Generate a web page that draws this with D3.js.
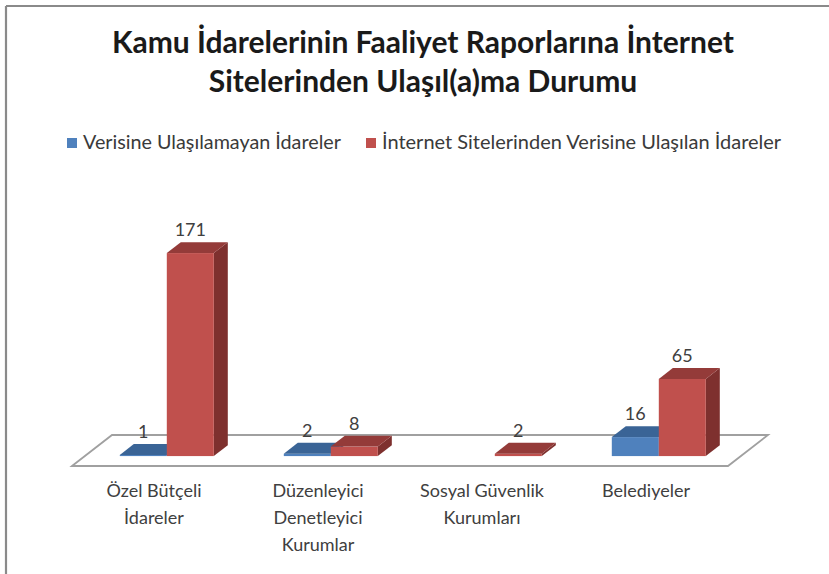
<!DOCTYPE html>
<html>
<head>
<meta charset="utf-8">
<script src="https://cdn.jsdelivr.net/npm/d3@7"></script>
<style>
  html, body { margin: 0; padding: 0; background: #fff; }
  svg { display: block; }
</style>
</head>
<body>
<svg id="chart" width="829" height="574"></svg>
<script>
// ---- data ----
const titleLines = ["Kamu İdarelerinin Faaliyet Raporlarına İnternet", "Sitelerinden Ulaşıl(a)ma Durumu"];
const categories = [["Özel Bütçeli", "İdareler"], ["Düzenleyici", "Denetleyici", "Kurumlar"], ["Sosyal Güvenlik", "Kurumları"], ["Belediyeler"]];
const seriesNames = ["Verisine Ulaşılamayan İdareler", "İnternet Sitelerinden Verisine Ulaşılan İdareler"];
const notReached = [1, 2, null, 16];
const reached = [171, 8, 2, 65];

// ---- styles ----
const font = "Lato, 'Open Sans', sans-serif";
const colors = [
  { front: "#4F81BD", top: "#3A6496", side: "#345A88" },
  { front: "#C0504D", top: "#943B39", side: "#7E302E" }
];

const svg = d3.select("#chart");

// frame (top and left edges visible)
svg.append("line").attr("x1", 6).attr("y1", 6).attr("x2", 829).attr("y2", 6)
  .attr("stroke", "#8a8a8a").attr("stroke-width", 2.2);
svg.append("line").attr("x1", 6).attr("y1", 6).attr("x2", 6).attr("y2", 574)
  .attr("stroke", "#8a8a8a").attr("stroke-width", 2.2);

function fitSize(sel, target) {
  let s = parseFloat(sel.attr("font-size"));
  for (let k = 0; k < 3; k++) {
    const w = sel.node().getComputedTextLength();
    s = s * target / w;
    sel.attr("font-size", s);
  }
  return s;
}

// title
const t1 = svg.append("text").attr("x", 423).attr("y", 53).attr("text-anchor", "middle")
  .attr("font-family", font).attr("font-weight", "bold").attr("font-size", 24).attr("fill", "#1a1a1a")
  .text(titleLines[0]);
const ts = fitSize(t1, 622);
svg.append("text").attr("x", 423).attr("y", 92).attr("text-anchor", "middle")
  .attr("font-family", font).attr("font-weight", "bold").attr("font-size", ts).attr("fill", "#1a1a1a")
  .text(titleLines[1]);

// legend
const legX = [67, 366];
const legTW = [260, 401];
seriesNames.forEach((n, i) => {
  svg.append("rect").attr("x", legX[i]).attr("y", 138).attr("width", 10).attr("height", 10)
    .attr("fill", colors[i].front);
  const lt = svg.append("text").attr("x", legX[i] + 16).attr("y", 148.5)
    .attr("font-family", font).attr("font-size", 14).attr("fill", "#3a3a3a").text(n);
  fitSize(lt, legTW[i] - 2);
});

// ---- 3D geometry ----
const floorFrontY = 466, floorDX = 40, floorDY = 31;
const x = d3.scaleBand().domain(d3.range(categories.length)).range([72, 728]).paddingInner(0).paddingOuter(0);
const barW = 47;
const y = d3.scaleLinear().domain([0, 180]).range([0, 213.7]);
const f0 = 0.32, fd = 0.35; // bar front depth fraction, bar depth fraction

// floor
const floorPts = [[72, floorFrontY], [72 + floorDX, floorFrontY - floorDY], [728 + floorDX, floorFrontY - floorDY], [728, floorFrontY]];
svg.append("polygon").attr("points", floorPts.map(p => p.join(",")).join(" "))
  .attr("fill", "#fff").attr("stroke", "#a0a0a0").attr("stroke-width", 1.8);

const bx = f0 * floorDX, by = f0 * floorDY;
const ddx = fd * floorDX, ddy = fd * floorDY;

function drawBar(ci, si, v) {
  if (v == null) return;
  const cx = x(ci) + x.bandwidth() / 2 + bx;
  const left = cx - barW + si * barW;
  const right = left + barW;
  const bottom = floorFrontY - by;
  const top = bottom - y(v);
  const c = colors[si];
  const g = svg.append("g");
  // side
  g.append("polygon").attr("points", [[right, bottom], [right + ddx, bottom - ddy], [right + ddx, top - ddy], [right, top]].map(p => p.join(",")).join(" "))
    .attr("fill", c.side);
  // front
  g.append("rect").attr("x", left).attr("y", top).attr("width", barW).attr("height", bottom - top).attr("fill", c.front);
  // top
  g.append("polygon").attr("points", [[left, top], [left + ddx, top - ddy], [right + ddx, top - ddy], [right, top]].map(p => p.join(",")).join(" "))
    .attr("fill", c.top);
  // label
  svg.append("text").attr("x", (left + right) / 2).attr("y", top - ddy - 6)
    .attr("text-anchor", "middle").attr("font-family", font).attr("font-size", 18)
    .attr("fill", "#404040").text(v);
}

categories.forEach((c, i) => {
  drawBar(i, 0, notReached[i]);
  drawBar(i, 1, reached[i]);
});

// category labels
categories.forEach((lines, i) => {
  const t = svg.append("text").attr("text-anchor", "middle").attr("font-family", font)
    .attr("font-size", 18).attr("fill", "#404040");
  lines.forEach((l, j) => {
    t.append("tspan").attr("x", x(i) + x.bandwidth() / 2).attr("y", 497 + j * 27).text(l);
  });
});
</script>
</body>
</html>
